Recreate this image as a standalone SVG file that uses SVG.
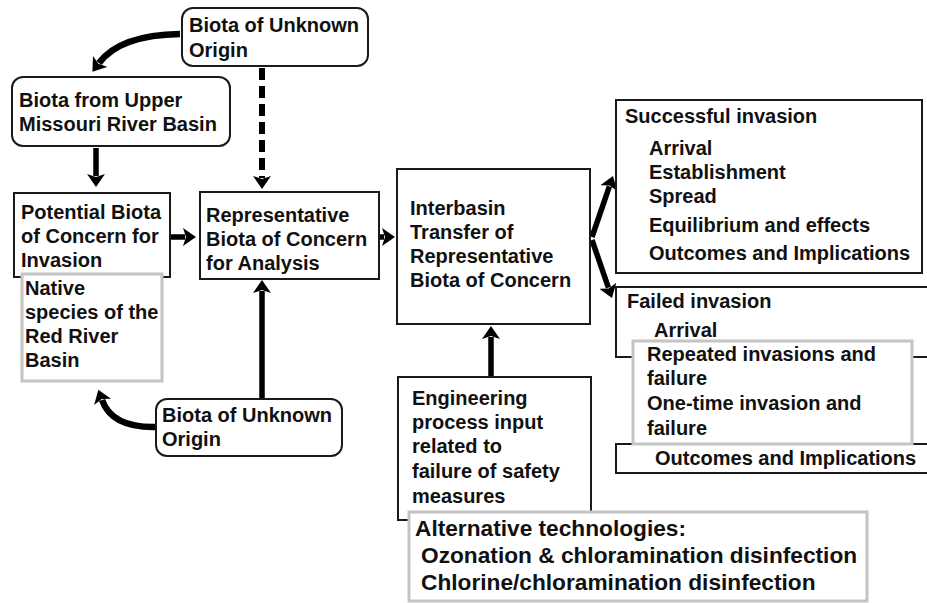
<svg xmlns="http://www.w3.org/2000/svg" width="927" height="603" viewBox="0 0 927 603">
  <style>
    .box { fill: #ffffff; stroke: #1a1a1a; stroke-width: 2; }
    .gbox { fill: #ffffff; stroke: #c4c4c4; stroke-width: 3; }
    .t { font-family: "Liberation Sans", Arial, sans-serif; font-weight: bold; font-size: 20px; fill: #111111; }
    .tl { font-size: 22.7px; }
    .arr { fill: none; stroke: #000000; stroke-width: 5.5; marker-end: url(#head); }
    .thick { stroke-width: 6.5; }
    .dash { stroke-dasharray: 12 6; stroke-width: 6; }
  </style>
  <defs>
    <marker id="head" markerUnits="userSpaceOnUse" markerWidth="15" markerHeight="18" refX="2" refY="9" orient="auto">
      <path d="M0,0 L13,9 L0,18 L3,9 Z" fill="#000000"/>
    </marker>
  </defs>

  <rect width="927" height="603" fill="#ffffff"/>

  <!-- connectors -->
  <g id="connectors">
    <path class="arr thick" d="M180,34 Q120,35 99,63"/>
    <path class="arr dash" d="M262,68 L262,178"/>
    <path class="arr" d="M96,148 L96,176"/>
    <path class="arr" d="M171,237 L185,237"/>
    <path class="arr" d="M262,398 L262,291"/>
    <path class="arr thick" d="M156,427 Q112,428 102,400"/>
    <path class="arr" d="M379,237 L384,237"/>
    <path class="arr" d="M592,237 L609.4,186.4"/>
    <path class="arr" d="M592,240 L608.4,287.6"/>
    <path class="arr" d="M491,376 L491,337"/>
  </g>

  <g id="topUnknown">
    <rect class="box" x="182" y="8" width="186" height="58" rx="11"/>
    <text class="t" x="189" y="32">Biota of Unknown</text>
    <text class="t" x="189" y="57">Origin</text>
  </g>

  <g id="upperMissouri">
    <rect class="box" x="12" y="77" width="218" height="69" rx="11"/>
    <text class="t" x="19" y="107">Biota from Upper</text>
    <text class="t" x="19" y="131">Missouri River Basin</text>
  </g>

  <g id="potential">
    <rect class="box" x="14" y="193" width="156" height="84"/>
    <text class="t" x="21" y="219">Potential Biota</text>
    <text class="t" x="21" y="243">of Concern for</text>
    <text class="t" x="21" y="267">Invasion</text>
  </g>

  <g id="native">
    <rect class="gbox" x="22" y="274" width="140" height="107"/>
    <text class="t" x="25" y="295">Native</text>
    <text class="t" x="25" y="319">species of the</text>
    <text class="t" x="25" y="343">Red River</text>
    <text class="t" x="25" y="367">Basin</text>
  </g>

  <g id="representative">
    <rect class="box" x="200" y="192" width="179" height="87"/>
    <text class="t" x="206" y="222">Representative</text>
    <text class="t" x="206" y="246">Biota of Concern</text>
    <text class="t" x="206" y="270">for Analysis</text>
  </g>

  <g id="bottomUnknown">
    <rect class="box" x="156" y="399" width="186" height="57" rx="11"/>
    <text class="t" x="162" y="422">Biota of Unknown</text>
    <text class="t" x="162" y="446">Origin</text>
  </g>

  <g id="interbasin">
    <rect class="box" x="397" y="169" width="193" height="155"/>
    <text class="t" x="410" y="215">Interbasin</text>
    <text class="t" x="410" y="239">Transfer of</text>
    <text class="t" x="410" y="263">Representative</text>
    <text class="t" x="410" y="287">Biota of Concern</text>
  </g>

  <g id="successful">
    <rect class="box" x="616" y="100" width="306" height="173"/>
    <text class="t" x="625" y="123">Successful invasion</text>
    <text class="t" x="649" y="155">Arrival</text>
    <text class="t" x="649" y="179">Establishment</text>
    <text class="t" x="649" y="203">Spread</text>
    <text class="t" x="649" y="232">Equilibrium and effects</text>
    <text class="t" x="649" y="260">Outcomes and Implications</text>
  </g>

  <g id="failed">
    <rect class="box" x="616" y="287" width="330" height="70"/>
    <text class="t" x="627" y="308">Failed invasion</text>
    <text class="t" x="654" y="337">Arrival</text>
  </g>

  <g id="failedOutcomes">
    <rect class="box" x="616" y="444" width="330" height="29"/>
    <text class="t" x="655" y="465">Outcomes and Implications</text>
  </g>

  <g id="failureModes">
    <rect class="gbox" x="633" y="341" width="279" height="103"/>
    <text class="t" x="647" y="361">Repeated invasions and</text>
    <text class="t" x="647" y="385">failure</text>
    <text class="t" x="647" y="410">One-time invasion and</text>
    <text class="t" x="647" y="435">failure</text>
  </g>

  <g id="engineering">
    <rect class="box" x="398" y="377" width="193" height="143"/>
    <text class="t" x="412" y="405">Engineering</text>
    <text class="t" x="412" y="429">process input</text>
    <text class="t" x="412" y="453">related to</text>
    <text class="t" x="412" y="478">failure of safety</text>
    <text class="t" x="412" y="503">measures</text>
  </g>

  <g id="alternatives">
    <rect class="gbox" x="409" y="512" width="458" height="89"/>
    <text class="t tl" x="415" y="536">Alternative technologies:</text>
    <text class="t tl" x="421" y="563">Ozonation &amp; chloramination disinfection</text>
    <text class="t tl" x="421" y="590">Chlorine/chloramination disinfection</text>
  </g>
</svg>
